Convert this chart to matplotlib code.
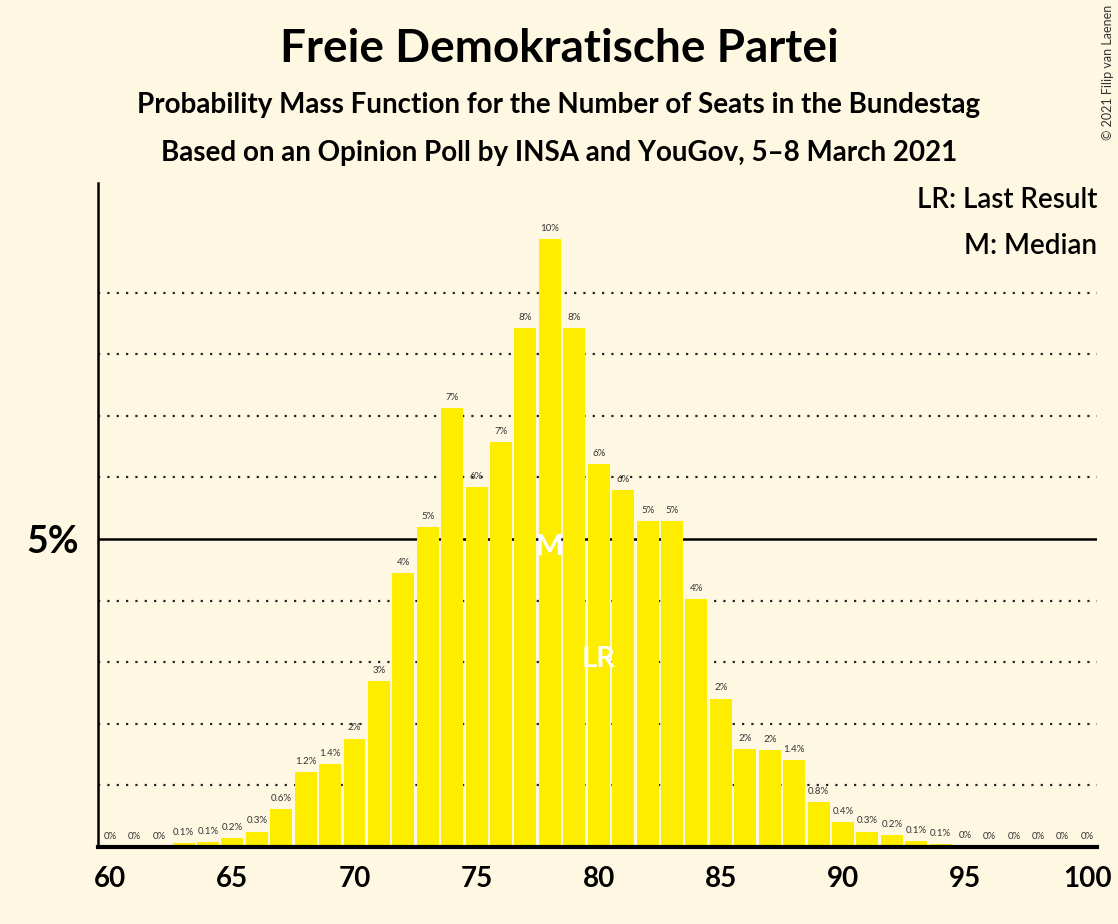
import numpy as np
import matplotlib.pyplot as plt

seats = list(range(60, 101))
probs = [0, 0, 0, 0.06, 0.08, 0.15, 0.25, 0.61, 1.22, 1.35,
         1.76, 2.7, 4.45, 5.2, 7.13, 5.84, 6.57, 8.43, 9.87, 8.43,
         6.22, 5.8, 5.29, 5.29, 4.02, 2.41, 1.59, 1.57, 1.41, 0.73,
         0.40, 0.25, 0.19, 0.10, 0.05, 0.02, 0, 0, 0, 0, 0]
labels = ["0%", "0%", "0%", "0.1%", "0.1%", "0.2%", "0.3%", "0.6%", "1.2%", "1.4%",
          "2%", "3%", "4%", "5%", "7%", "6%", "7%", "8%", "10%", "8%",
          "6%", "6%", "5%", "5%", "4%", "2%", "2%", "2%", "1.4%", "0.8%",
          "0.4%", "0.3%", "0.2%", "0.1%", "0.1%", "0%", "0%", "0%", "0%", "0%", "0%"]
median_seat = 78
last_result = 80

bg = "#FEF8E3"
yellow = "#FFED00"
plt.rcParams['font.family'] = ['Lato', 'DejaVu Sans']

fig = plt.figure(figsize=(11.18, 9.24), dpi=100, facecolor=bg)
ax = fig.add_axes([0.0877, 0.0833, 0.8935, 0.7187], facecolor=bg)

for y in [1, 2, 3, 4, 6, 7, 8, 9]:
    ax.axhline(y, color="#222222", lw=1.6, linestyle=(0, (1, 3.2)), zorder=1)
ax.axhline(5, color="black", lw=1.8, zorder=1)

ax.bar(seats, probs, width=0.9, color=yellow, zorder=2)
for s, p, l in zip(seats, probs, labels):
    ax.text(s, p + 0.1, l, ha="center", va="bottom", fontsize=7, color="#333333", zorder=3)

ax.text(median_seat, 4.87, "M", ha="center", va="center", fontsize=21, color="white",
        fontweight="bold", zorder=4)
ax.text(last_result, 3.05, "LR", ha="center", va="center", fontsize=21, color="white",
        fontweight="bold", zorder=4)

ax.set_xlim(59.5, 100.4)
ax.set_ylim(0, 10.78)
ax.set_xticks(range(60, 101, 5))
ax.set_xticklabels([str(v) for v in range(60, 101, 5)], fontsize=20, fontweight="bold")
ax.set_yticks([5])
ax.set_yticklabels(["5%"], fontsize=27, fontweight="bold")
ax.tick_params(length=0, pad=14)
ax.tick_params(axis="y", pad=14)
for side in ["top", "right"]:
    ax.spines[side].set_visible(False)
ax.spines["left"].set_linewidth(1.8)
ax.spines["bottom"].set_linewidth(3)

ax.text(1.0, 0.975, "LR: Last Result", transform=ax.transAxes, ha="right", va="center",
        fontsize=20, fontweight="semibold")
ax.text(1.0, 0.905, "M: Median", transform=ax.transAxes, ha="right", va="center",
        fontsize=20, fontweight="semibold")

fig.text(0.5, 0.947, "Freie Demokratische Partei", ha="center", va="center",
         fontsize=33, fontweight="bold")
fig.text(0.5, 0.886, "Probability Mass Function for the Number of Seats in the Bundestag",
         ha="center", va="center", fontsize=20, fontweight="bold")
fig.text(0.5, 0.834, "Based on an Opinion Poll by INSA and YouGov, 5\u20138 March 2021",
         ha="center", va="center", fontsize=20, fontweight="bold")
fig.text(0.991, 0.995, "\u00a9 2021 Filip van Laenen", rotation=90, ha="center", va="top",
         fontsize=9, color="#333333")

fig.savefig("out.png", dpi=100, facecolor=bg)
